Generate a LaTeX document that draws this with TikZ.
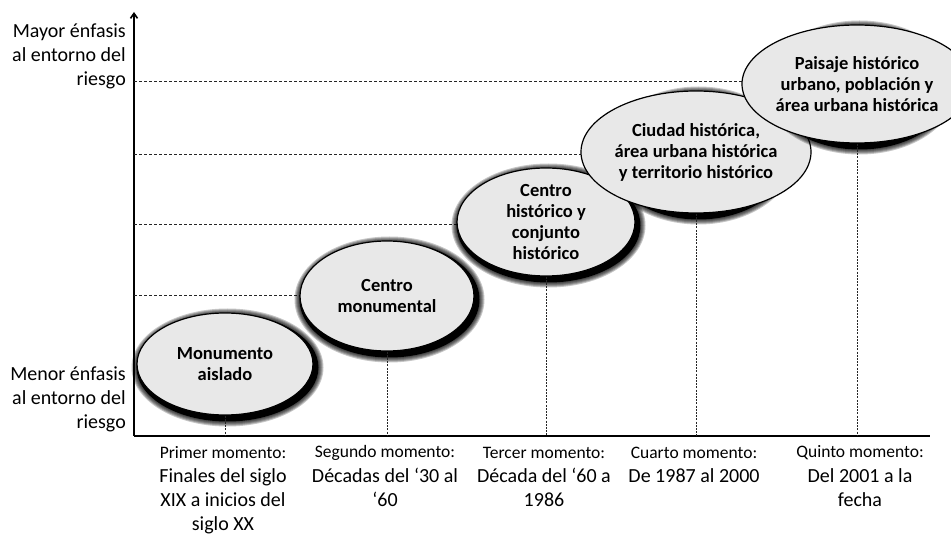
\documentclass[tikz,border=0pt]{standalone}
\usepackage{fontspec}
\setmainfont{Carlito}
\usetikzlibrary{shapes.geometric,arrows.meta,positioning}

\begin{document}
\begin{tikzpicture}[x=1pt,y=-1pt,
  stage/.style={ellipse, draw=black, line width=1.2pt, fill=gray!18, inner sep=0pt, align=center,
    font=\bfseries\fontsize{18.5}{21}\selectfont},
  glow/.style={fill=black, opacity=0.22},
  level/.style={dash pattern=on 3pt off 2pt, line width=0.7pt, black!85},
  period/.style={dash pattern=on 2pt off 1.2pt, line width=0.7pt, black!85},
  axislabel/.style={anchor=east, align=right, inner sep=0pt, font=\fontsize{20}{24}\selectfont},
  head/.style={inner sep=0pt, font=\fontsize{17.5}{20}\selectfont},
  detail/.style={inner sep=0pt, align=center, font=\fontsize{20}{24}\selectfont}]
\useasboundingbox (0,0) rectangle (951,534);

% ejes
\coordinate (o) at (134,436);
\coordinate (top) at (134,12);
\coordinate (end) at (930,436);
\draw[line width=1.6pt, -{Straight Barb[length=5pt,width=7pt]}] (o) -- (top);
\draw[line width=1.6pt] (o) -- (end);

\node[axislabel] (mayor) at (126,56) {Mayor énfasis\\al entorno del\\riesgo};
\node[axislabel] (menor) at (126,399) {Menor énfasis\\al entorno del\\riesgo};

% lineas de referencia
\draw[level] (o |- 0,81) -- (768,81);
\draw[level] (o |- 0,154) -- (610,154);
\draw[level] (o |- 0,224) -- (458,224);
\draw[level] (o |- 0,295) -- (300,295);

% momentos, cada elipse con su sombra
\foreach \i/\x/\y/\w/\h/\t in {1/225/364/176/102/{Monumento\\aislado},
    2/387/296/174/110/{Centro\\monumental},
    3/546/222/178/108/{Centro\\histórico y\\conjunto\\histórico},
    4/696/152/176/122/{Ciudad histórica,\\área urbana histórica\\y territorio histórico},
    5/857/84/178/118/{Paisaje histórico\\urbano, población y\\área urbana histórica}} {
    \foreach \g in {8,7,6,5,4} {
        \fill[glow] (\x+2.5,\y+3.5) ellipse [x radius={(\w/2+\g)*1pt}, y radius={(\h/2+\g)*1pt}];
    }
    \fill[black] (\x+2.5,\y+3.5) ellipse [x radius={(\w/2+3)*1pt}, y radius={(\h/2+3)*1pt}];
    \node[stage, minimum width=\w pt, minimum height=\h pt] (e\i) at (\x,\y) {\t};
}

\foreach \i in {1,...,5} {
    \draw[period] (e\i.south) -- (e\i.south |- o);
}

\foreach \i/\x/\h/\d in {1/223/{Primer momento:}/{Finales del siglo\\XIX a inicios del\\siglo XX},
    2/385/{Segundo momento:}/{Décadas del ‘30 al\\‘60},
    3/544/{Tercer momento:}/{Década del ‘60 a\\1986},
    4/694/{Cuarto momento:}/{De 1987 al 2000},
    5/860/{Quinto momento:}/{Del 2001 a la\\fecha}} {
    \node[head] (m\i) at (\x,453) {\h};
    \node[detail, anchor=north] (d\i) at (\x,468) {\d};
}
\end{tikzpicture}
\end{document}
